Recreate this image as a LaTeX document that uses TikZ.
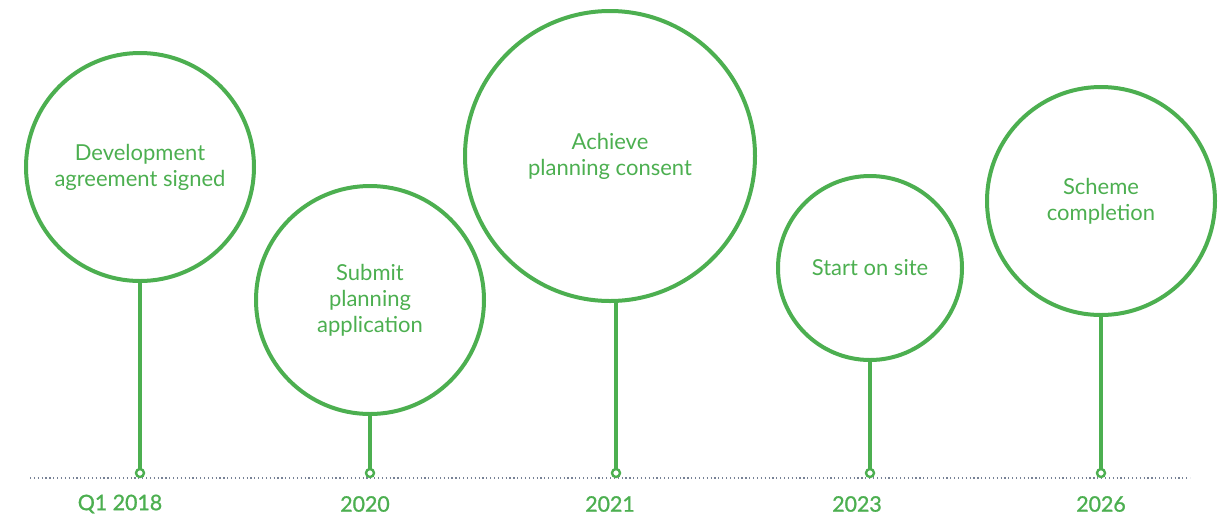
\documentclass[tikz,border=0pt]{standalone}
\usepackage{fontspec}
\setmainfont{Lato}
\newfontfamily\yearfont[FakeBold=1.2]{Lato}
\usetikzlibrary{positioning}
\definecolor{leaf}{RGB}{76,175,80}
\definecolor{axisdot}{RGB}{120,130,150}
\tikzset{milestone/.style={circle,draw=leaf,line width=3pt,inner sep=0pt,outer sep=0pt,
           text=leaf,align=center,font=\fontsize{16.5}{19.5}\selectfont},
         stem/.style={draw=leaf,line width=2.3pt},
         pin/.style={circle,draw=leaf,fill=white,line width=1.8pt,inner sep=0pt,outer sep=0pt,minimum size=6pt},
         year/.style={text=leaf,font=\yearfont\fontsize{16}{18}\selectfont}}

\begin{document}
\begin{tikzpicture}[x=0.75pt,y=-0.75pt]
  \useasboundingbox (0,0) rectangle (1228,515);
  % time axis
  \draw[axisdot,line width=0.9pt,dotted] (30,478) -- (1190,478);
  % milestones
  \node[milestone,minimum size=171pt] (dev) at (140,167) {Development\\agreement signed};
  \node[milestone,minimum size=171pt] (submit) at (370,300) {Submit\\planning\\application};
  \node[milestone,minimum size=217.5pt] (consent) at (610,156) {Achieve\\planning consent};
  \node[milestone,minimum size=138pt] (start) at (870,268) {Start on site};
  \node[milestone,minimum size=171pt] (scheme) at (1101,201) {Scheme\\completion};
  % pins on the axis
  \node[pin] (pdev) at (140,473) {};
  \node[pin] (psubmit) at (370,473) {};
  \node[pin] (pconsent) at (616,473) {};
  \node[pin] (pstart) at (870,473) {};
  \node[pin] (pscheme) at (1101,473) {};
  \draw[stem] (pdev.north) -- (pdev |- dev.south);
  \draw[stem] (psubmit.north) -- (psubmit |- submit.south);
  \draw[stem] (pconsent.north) -- (pconsent |- consent.south);
  \draw[stem] (pstart.north) -- (pstart |- start.south);
  \draw[stem] (pscheme.north) -- (pscheme |- scheme.south);
  % years
  \node[year] (ydev) at (120,504) {Q1 2018};
  \node[year] (ysubmit) at (365,504) {2020};
  \node[year] (yconsent) at (610,504) {2021};
  \node[year] (ystart) at (857,504) {2023};
  \node[year] (yscheme) at (1101,504) {2026};
\end{tikzpicture}
\end{document}
